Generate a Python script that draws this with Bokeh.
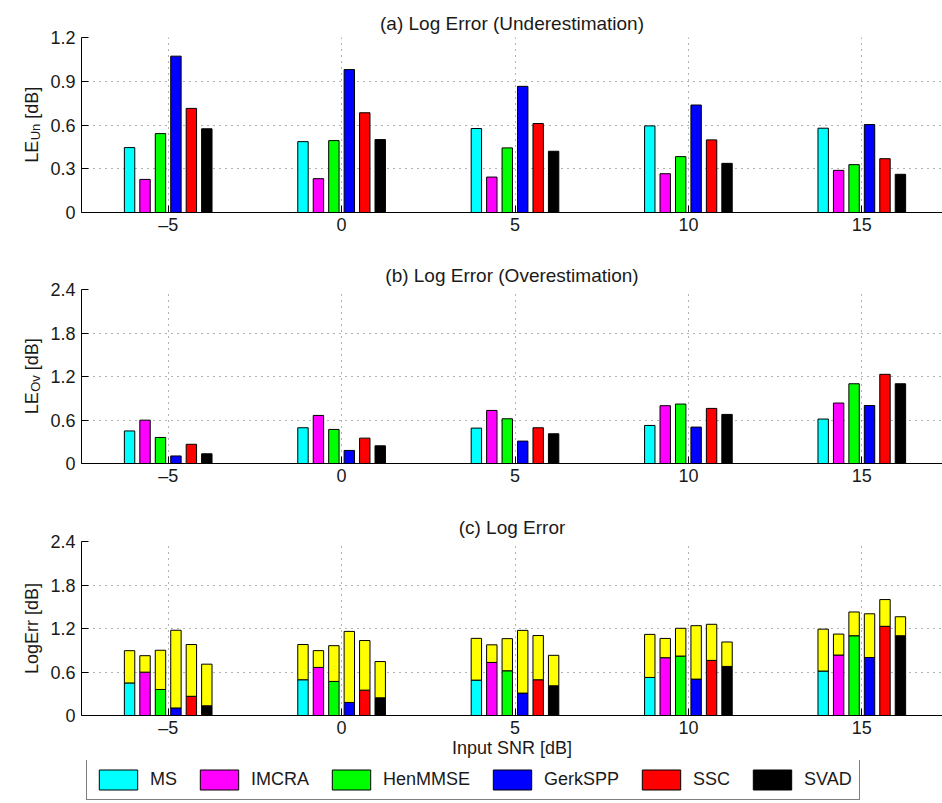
from math import pi
from bokeh.plotting import figure
from bokeh.models import (ColumnDataSource, FixedTicker, CustomJSTickFormatter, Range1d,
                          Legend, LegendItem)
from bokeh.layouts import column, row
from bokeh.core.properties import value
from bokeh.embed import file_html
from bokeh.resources import INLINE
from bokeh.transform import dodge

# ---------------- data ----------------
snr = [-5, 0, 5, 10, 15]
methods = ["MS", "IMCRA", "HenMMSE", "GerkSPP", "SSC", "SVAD"]
colors = ["#00FFFF", "#FF00FF", "#00FF00", "#0000FF", "#FF0000", "#000000"]
stack_color = "#FFFF00"

# (a) Log error, underestimation [dB]
le_un_ms = [0.445, 0.486, 0.576, 0.594, 0.578]
le_un_imcra = [0.227, 0.232, 0.243, 0.266, 0.289]
le_un_henmmse = [0.541, 0.493, 0.443, 0.383, 0.328]
le_un_gerkspp = [1.072, 0.980, 0.865, 0.737, 0.603]
le_un_ssc = [0.714, 0.684, 0.610, 0.498, 0.369]
le_un_svad = [0.574, 0.500, 0.420, 0.337, 0.262]

# (b) Log error, overestimation [dB]
le_ov_ms = [0.449, 0.493, 0.488, 0.525, 0.613]
le_ov_imcra = [0.598, 0.663, 0.732, 0.797, 0.834]
le_ov_henmmse = [0.359, 0.470, 0.617, 0.820, 1.100]
le_ov_gerkspp = [0.104, 0.180, 0.309, 0.502, 0.800]
le_ov_ssc = [0.265, 0.350, 0.493, 0.760, 1.230]
le_ov_svad = [0.134, 0.244, 0.410, 0.677, 1.100]

y_ticks_a = [0, 0.3, 0.6, 0.9, 1.2]
y_ticks_bc = [0, 0.6, 1.2, 1.8, 2.4]

le_un = [le_un_ms, le_un_imcra, le_un_henmmse, le_un_gerkspp, le_un_ssc, le_un_svad]
le_ov = [le_ov_ms, le_ov_imcra, le_ov_henmmse, le_ov_gerkspp, le_ov_ssc, le_ov_svad]

# ---------------- layout constants ----------------
FONT = "Liberation Sans"
FS = "18px"
TXT = "#1a1a1a"
PX_PER_UNIT = 34.68
X0 = -7.5
FRAME_W = 861
LAB_W = 45          # width of the left strip holding the y-axis titles
LEFT = 81 - LAB_W   # remaining left border of each panel
X1 = X0 + FRAME_W / PX_PER_UNIT
BAR_STEP = 0.4455
BAR_W = 0.30
TOTAL_H = 803

x_fmt = CustomJSTickFormatter(code="return tick < 0 ? '\u2013' + (-tick) : '' + tick;")
y_fmt = CustomJSTickFormatter(code="return tick == 0 ? '0' : tick.toFixed(1);")

# Arial-like advance widths (per 1000 em) for composing the subscripted labels
W = {"L": 556, "E": 667, "U": 722, "n": 556, "O": 778, "v": 500, " ": 278,
     "[": 278, "d": 556, "B": 667, "]": 278}


def tw(s, size):
    return sum(W.get(c, 556) for c in s) * size / 1000.0


def make_fig(title, ymax, yticks, top, frame_h, bottom):
    p = figure(frame_width=FRAME_W, frame_height=frame_h,
               x_range=Range1d(X0, X1), y_range=Range1d(0, ymax),
               min_border_left=LEFT, min_border_right=0,
               min_border_top=top, min_border_bottom=bottom,
               output_backend="svg", toolbar_location=None,
               background_fill_color="white", border_fill_color="white")
    p.outline_line_color = None
    p.title.text = title
    p.title.align = "center"
    p.title.text_font = FONT
    p.title.text_font_size = "19px"
    p.title.text_font_style = "normal"
    p.title.text_color = TXT
    p.title.standoff = 7

    p.xaxis.ticker = FixedTicker(ticks=snr)
    p.yaxis.ticker = FixedTicker(ticks=yticks)
    p.xaxis.formatter = x_fmt
    p.yaxis.formatter = y_fmt
    for ax in (p.xaxis[0], p.yaxis[0]):
        ax.major_tick_in = 7
        ax.major_tick_out = 0
        ax.minor_tick_in = 0
        ax.minor_tick_out = 0
        ax.axis_line_color = "black"
        ax.major_tick_line_color = "black"
        ax.major_label_text_font = FONT
        ax.major_label_text_font_size = FS
        ax.major_label_text_color = TXT
    p.yaxis.major_label_standoff = 6
    p.xaxis.major_label_standoff = 2
    for g in (p.xgrid[0], p.ygrid[0]):
        g.grid_line_color = "#666666"
        g.grid_line_dash = "1 5"
        g.grid_line_width = 1
    p.xgrid.ticker = FixedTicker(ticks=snr)
    p.ygrid.ticker = FixedTicker(ticks=yticks)
    return p


def draw_bars(p, values, base=None, color=None):
    rends = []
    for i, m in enumerate(methods):
        off = (i - 2.5) * BAR_STEP
        if base is None:
            src = ColumnDataSource(dict(snr=snr, top=values[i], bottom=[0] * len(snr)))
        else:
            src = ColumnDataSource(dict(snr=snr,
                                        top=[b + v for b, v in zip(base[i], values[i])],
                                        bottom=base[i]))
        r = p.vbar(x=dodge("snr", off), top="top", bottom="bottom", width=BAR_W, source=src,
                   fill_color=color if color else colors[i], line_color="black", line_width=1)
        rends.append(r)
    return rends


# panel geometry (pixels): top border, frame height, bottom border
A_TOP, A_FH, A_BOT = 37, 175, 39
B_TOP, B_FH, B_BOT = 38, 174, 39
C_TOP, C_FH, C_BOT = 39, 174, 42

# (a)
pa = make_fig("(a) Log Error (Underestimation)", 1.2, y_ticks_a, A_TOP, A_FH, A_BOT)
draw_bars(pa, le_un)

# (b)
pb = make_fig("(b) Log Error (Overestimation)", 2.4, y_ticks_bc, B_TOP, B_FH, B_BOT)
draw_bars(pb, le_ov)

# (c)
pc = make_fig("(c) Log Error", 2.4, y_ticks_bc, C_TOP, C_FH, C_BOT)
base_r = draw_bars(pc, le_ov)
draw_bars(pc, le_un, base=le_ov, color=stack_color)
pc.xaxis.axis_label = "Input SNR [dB]"
pc.xaxis.axis_label_text_font = FONT
pc.xaxis.axis_label_text_font_size = FS
pc.xaxis.axis_label_text_font_style = "normal"
pc.xaxis.axis_label_text_color = TXT
pc.xaxis.axis_label_standoff = -3

# ---------------- legend strip ----------------
used_h = (A_TOP + A_FH + A_BOT) + (B_TOP + B_FH + B_BOT) + (C_TOP + C_FH + C_BOT)
LEG_H = TOTAL_H - used_h
pl = figure(frame_width=LEFT + FRAME_W, frame_height=LEG_H,
            x_range=Range1d(0, 1), y_range=Range1d(0, 1),
            min_border=0, output_backend="svg", toolbar_location=None,
            background_fill_color="white", border_fill_color="white")
pl.axis.visible = False
pl.grid.visible = False
pl.outline_line_color = None
# off-range placeholder renderers: they only supply the legend swatch styles
hidden = ColumnDataSource(dict(x=[-5.0], top=[-5.0]))
leg_r = [pl.vbar(x="x", top="top", bottom=-6.0, width=0.1, source=hidden,
                 fill_color=c, line_color="black") for c in colors]
legend = Legend(items=[LegendItem(label=m, renderers=[r]) for m, r in zip(methods, leg_r)],
                orientation="horizontal", location=(86 - LAB_W, 6))
legend.glyph_width = 48
legend.glyph_height = 25
legend.label_standoff = 8
legend.spacing = 18
legend.padding = 7
legend.margin = 0
legend.border_line_color = "black"
legend.border_line_width = 1
legend.label_text_font = FONT
legend.label_text_font_size = FS
legend.label_text_color = TXT
legend.label_height = 25
pl.add_layout(legend, "center")

# ---------------- y-axis titles strip ----------------
py = figure(frame_width=LAB_W, frame_height=TOTAL_H,
            x_range=Range1d(0, LAB_W), y_range=Range1d(TOTAL_H, 0),
            min_border=0, output_backend="svg", toolbar_location=None,
            background_fill_color="white", border_fill_color="white")
py.axis.visible = False
py.grid.visible = False
py.outline_line_color = None

mid_a = A_TOP + A_FH / 2
mid_b = A_TOP + A_FH + A_BOT + B_TOP + B_FH / 2
mid_c = A_TOP + A_FH + A_BOT + B_TOP + B_FH + B_BOT + C_TOP + C_FH / 2
BASE_X = 31


def sub_label(mid, main, sub, rest):
    gap = tw(" ", 18)
    total = tw(main, 18) + tw(sub, 13) + gap + tw(rest, 18)
    y0 = mid + total / 2
    common = dict(angle=pi / 2, text_align="left", text_baseline="alphabetic",
                  text_font=value(FONT), text_color=TXT)
    py.text(x=[BASE_X], y=[y0], text=[main], text_font_size=value("18px"), **common)
    py.text(x=[BASE_X + 4], y=[y0 - tw(main, 18) - 0.5], text=[sub],
            text_font_size=value("13px"), **common)
    py.text(x=[BASE_X], y=[y0 - tw(main, 18) - tw(sub, 13) - gap - 0.5], text=[rest],
            text_font_size=value("18px"), **common)


sub_label(mid_a, "LE", "Un", "[dB]")
sub_label(mid_b, "LE", "Ov", "[dB]")
py.text(x=[BASE_X], y=[mid_c], text=["LogErr [dB]"], angle=pi / 2, text_align="center",
        text_baseline="alphabetic", text_font=value(FONT), text_font_size=value("18px"),
        text_color=TXT)

layout = row(py, column(pa, pb, pc, pl, spacing=0), spacing=0)

with open("out.html", "w") as f:
    f.write(file_html(layout, INLINE))
